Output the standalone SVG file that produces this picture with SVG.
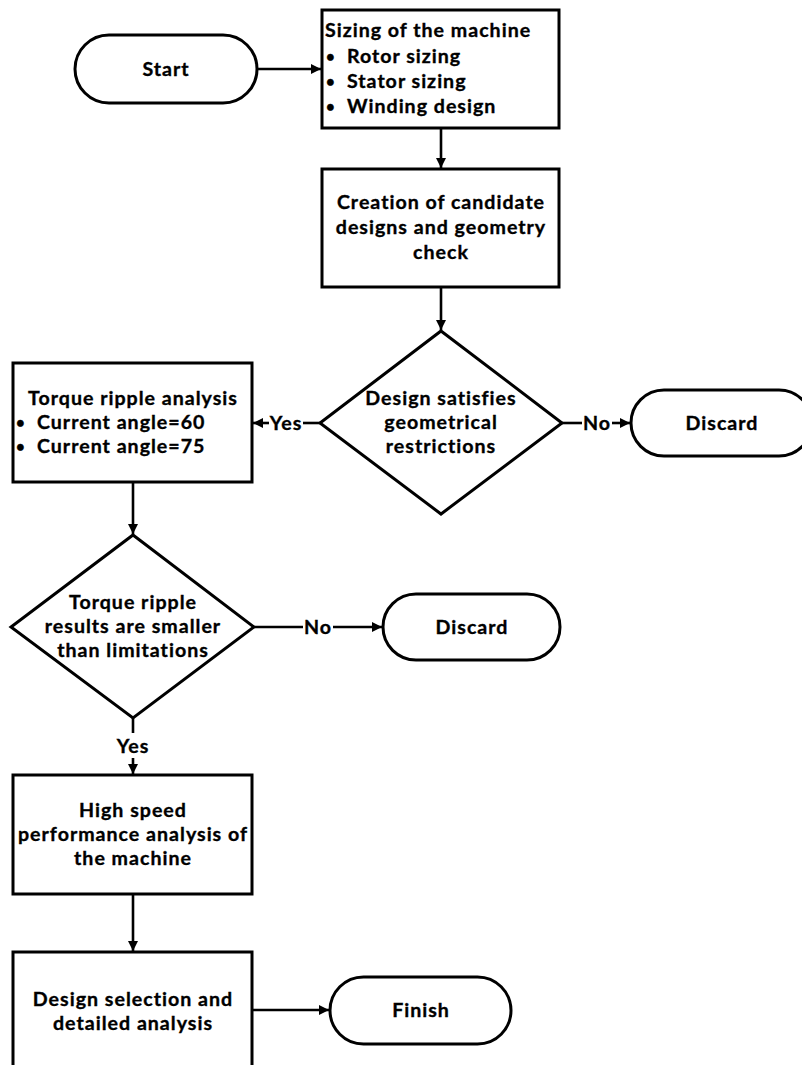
<svg xmlns="http://www.w3.org/2000/svg" width="802" height="1065" viewBox="0 0 802 1065">
<defs>
<style>
.s{fill:#fff;stroke:#000;stroke-width:3}
.c{fill:none;stroke:#000;stroke-width:2.6}
.t{font-family:Lato,"Open Sans","DejaVu Sans",sans-serif;font-weight:700;font-size:19.6px;letter-spacing:1px;fill:#000;stroke:#000;stroke-width:0.35px}
.m{text-anchor:middle}
.b{font-size:15px;letter-spacing:0}
</style>
<marker id="ah" viewBox="0 0 10 10" refX="10" refY="5" markerWidth="11" markerHeight="10" markerUnits="userSpaceOnUse" orient="auto">
<path d="M0,0 L10,5 L0,10 z" fill="#000"/>
</marker>
</defs>
<rect width="802" height="1065" fill="#fff"/>
<g id="connectors">
<path class="c" d="M257,69 H321" marker-end="url(#ah)"/>
<path class="c" d="M441,128 V168" marker-end="url(#ah)"/>
<path class="c" d="M441,287 V330" marker-end="url(#ah)"/>
<path class="c" d="M320,423 H303"/>
<path class="c" d="M269,423 H253" marker-end="url(#ah)"/>
<text class="t m" x="286" y="430">Yes</text>
<path class="c" d="M562,423 H582"/>
<path class="c" d="M612,423 H630" marker-end="url(#ah)"/>
<text class="t m" x="597" y="430">No</text>
<path class="c" d="M133,482 V534" marker-end="url(#ah)"/>
<path class="c" d="M254,627 H303"/>
<path class="c" d="M333,627 H382" marker-end="url(#ah)"/>
<text class="t m" x="318" y="634">No</text>
<path class="c" d="M133,718 V733"/>
<path class="c" d="M133,758 V774" marker-end="url(#ah)"/>
<text class="t m" x="133" y="753">Yes</text>
<path class="c" d="M133,894 V951" marker-end="url(#ah)"/>
<path class="c" d="M252,1010 H329" marker-end="url(#ah)"/>
</g>
<g id="start">
<rect class="s" x="75" y="35" width="182" height="68" rx="34"/>
<text class="t m" x="166" y="76">Start</text>
</g>
<g id="sizing">
<rect class="s" x="322" y="10" width="237" height="118"/>
<text class="t"><tspan x="325" y="37">Sizing of the machine</tspan><tspan class="b" x="326" y="62">•</tspan><tspan x="347" y="63">Rotor sizing</tspan><tspan class="b" x="326" y="87">•</tspan><tspan x="347" y="88">Stator sizing</tspan><tspan class="b" x="326" y="112">•</tspan><tspan x="347" y="113">Winding design</tspan></text>
</g>
<g id="creation">
<rect class="s" x="322" y="169" width="237" height="118"/>
<text class="t m"><tspan x="441" y="209">Creation of candidate</tspan><tspan x="441" y="234">designs and geometry</tspan><tspan x="441" y="259">check</tspan></text>
</g>
<g id="decision1">
<polygon class="s" points="441,331 562,423 441,514 320,423"/>
<text class="t m"><tspan x="441" y="405">Design satisfies</tspan><tspan x="441" y="429">geometrical</tspan><tspan x="441" y="453">restrictions</tspan></text>
</g>
<g id="discard1">
<rect class="s" x="631" y="390" width="181" height="66" rx="33"/>
<text class="t m" x="722" y="430">Discard</text>
</g>
<g id="torque">
<rect class="s" x="13" y="363" width="239" height="119"/>
<text class="t"><tspan class="m" x="133" y="405">Torque ripple analysis</tspan><tspan class="b" x="16" y="428">•</tspan><tspan x="37" y="429">Current angle=60</tspan><tspan class="b" x="16" y="452">•</tspan><tspan x="37" y="453">Current angle=75</tspan></text>
</g>
<g id="decision2">
<polygon class="s" points="133,535 254,627 133,718 11,627"/>
<text class="t m"><tspan x="133" y="609">Torque ripple</tspan><tspan x="133" y="633">results are smaller</tspan><tspan x="133" y="657">than limitations</tspan></text>
</g>
<g id="discard2">
<rect class="s" x="383" y="594" width="177" height="66" rx="33"/>
<text class="t m" x="472" y="634">Discard</text>
</g>
<g id="highspeed">
<rect class="s" x="13" y="775" width="239" height="119"/>
<text class="t m"><tspan x="133" y="817">High speed</tspan><tspan x="133" y="841">performance analysis of</tspan><tspan x="133" y="865">the machine</tspan></text>
</g>
<g id="selection">
<rect class="s" x="13" y="952" width="239" height="118"/>
<text class="t m"><tspan x="133" y="1006">Design selection and</tspan><tspan x="133" y="1030">detailed analysis</tspan></text>
</g>
<g id="finish">
<rect class="s" x="330" y="977" width="181" height="67" rx="33.5"/>
<text class="t m" x="421" y="1017">Finish</text>
</g>
</svg>
